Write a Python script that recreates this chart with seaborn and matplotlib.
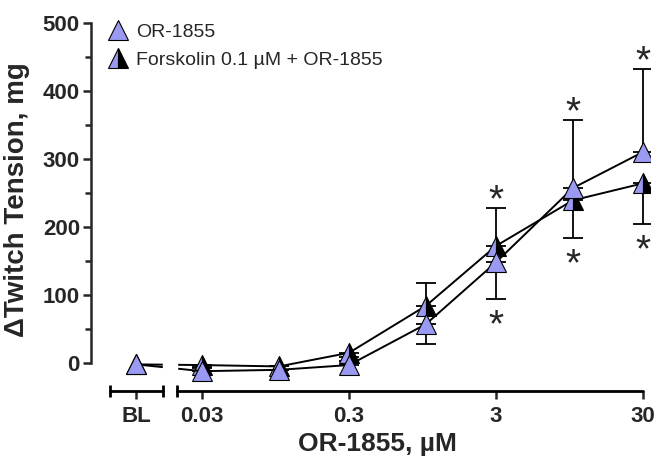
#! /usr/bin/env python3
# -*- coding: utf-8 -*-

import numpy as np
import pandas as pd
import matplotlib
matplotlib.use('Agg')
import matplotlib.pyplot as plt
from matplotlib.lines import Line2D
from matplotlib.ticker import MultipleLocator, NullLocator
import seaborn as sns

#OR-1855 concentrations (uM); BL = baseline, sits left of the axis break
conc = [0.03, 0.1, 0.3, 1, 3, 10, 30]
bl_pos = 0.0107
or_bl = -2
or_mean = [-12, -10, -3, 57, 148, 257, 310]
or_err = [6, 6, 6, 60, 80, 100, 122]     #drawn upwards
fsk_bl = -2
fsk_mean = [-3, -5, 15, 84, 172, 239, 264]
fsk_err = [5, 5, 6, 56, 78, 56, 60]      #drawn downwards
sig_conc = [3, 10, 30]
xtick_pos = [bl_pos, 0.03, 0.3, 3, 30]
xtick_lab = ['BL', '0.03', '0.3', '3', '30']

#axis break
left_seg = (0.0071, 0.0163)
right_seg = (0.0203, 30)

purple = '#9a9af2'

sns.set_style('ticks')
plt.rcParams['font.family'] = ['Liberation Sans', 'DejaVu Sans']

fig, ax = plt.subplots(figsize=(6.57, 4.63), dpi=100)
fig.subplots_adjust(left=91/657, right=650/657, top=1-22.7/463, bottom=1-391/463)
ax.set_xscale('log')

df_or = pd.DataFrame({'conc': [bl_pos]+conc, 'val': [or_bl]+or_mean})
df_fsk = pd.DataFrame({'conc': [bl_pos]+conc, 'val': [fsk_bl]+fsk_mean})

zeros = np.zeros(len(conc))
ax.errorbar(conc, fsk_mean, yerr=[fsk_err, zeros], fmt='none', ecolor='black',
            elinewidth=1.3, capsize=7, capthick=1.3, zorder=1)
ax.errorbar(conc, or_mean, yerr=[zeros, or_err], fmt='none', ecolor='black',
            elinewidth=1.3, capsize=7, capthick=1.3, zorder=1)

sns.lineplot(data=df_fsk, x='conc', y='val', ax=ax, color='black', lw=1.4,
             marker='^', markersize=14, markerfacecolor=purple,
             markerfacecoloralt='black', fillstyle='left',
             markeredgecolor='black', markeredgewidth=0.8, zorder=2)
sns.lineplot(data=df_or, x='conc', y='val', ax=ax, color='black', lw=1.4,
             marker='^', markersize=14, markerfacecolor=purple,
             markeredgecolor='black', markeredgewidth=0.8, zorder=3)

#break the BL -> 0.03 line
ax.axvspan(left_seg[1], right_seg[0], color='white', zorder=4)

#significance stars
for c in sig_conc:
    i = conc.index(c)
    ax.annotate('*', xy=(c, or_mean[i]+or_err[i]), xytext=(0, 4.5),
                textcoords='offset points', ha='center', va='center',
                fontsize=28, annotation_clip=False)
    ax.annotate('*', xy=(c, fsk_mean[i]-fsk_err[i]), xytext=(0, -19.5),
                textcoords='offset points', ha='center', va='center',
                fontsize=28, annotation_clip=False)

#axes
ax.set_ylim(-41.1, 500)
ax.set_xlim(0.00527, 33.5)
ax.set_yticks([0, 100, 200, 300, 400, 500])
ax.yaxis.set_minor_locator(MultipleLocator(50))
ax.set_xticks(xtick_pos, xtick_lab)
ax.xaxis.set_minor_locator(NullLocator())
ax.spines[['top', 'right', 'bottom']].set_visible(False)
ax.spines['left'].set_bounds(0, 500)
ax.spines['left'].set_linewidth(1.8)
ax.tick_params(axis='y', which='major', length=6, width=1.8, labelsize=16, pad=2)
ax.tick_params(axis='y', which='minor', length=4, width=1.8)
ax.tick_params(axis='x', which='major', length=6, width=1.8, labelsize=16, pad=5)
for lbl in ax.get_xticklabels() + ax.get_yticklabels():
    lbl.set_fontweight('bold')

trans = ax.get_xaxis_transform()
for seg in [left_seg, right_seg]:
    ax.plot(seg, [0, 0], transform=trans, color='black', lw=2, clip_on=False, zorder=5)
ax.plot([left_seg[0], left_seg[1], right_seg[0]], [0, 0, 0], transform=trans, ls='none',
        marker='|', ms=8, mew=2, color='black', clip_on=False, zorder=5)

ax.set_xlabel('OR-1855, µM', fontsize=19, fontweight='bold')
ax.set_ylabel('ΔTwitch Tension, mg', fontsize=20, fontweight='bold')
ax.xaxis.set_label_coords((377-91)/(650-91), -(432-391)/(391-22.7))
ax.yaxis.set_label_coords(-(91-30)/(650-91), (391-200)/(391-22.7))

handles = [Line2D([], [], ls='none', marker='^', ms=14, mfc=purple, mec='black', mew=0.8),
           Line2D([], [], ls='none', marker='^', ms=14, mfc=purple, mfcalt='black',
                  fillstyle='left', mec='black', mew=0.8)]
ax.legend(handles, ['OR-1855', 'Forskolin 0.1 µM + OR-1855'], loc='upper left',
          bbox_to_anchor=(0.0, 1.045), frameon=False, fontsize=14,
          handlelength=1, handletextpad=0.4, labelspacing=0.5)

fig.savefig('out.png', dpi=100)
